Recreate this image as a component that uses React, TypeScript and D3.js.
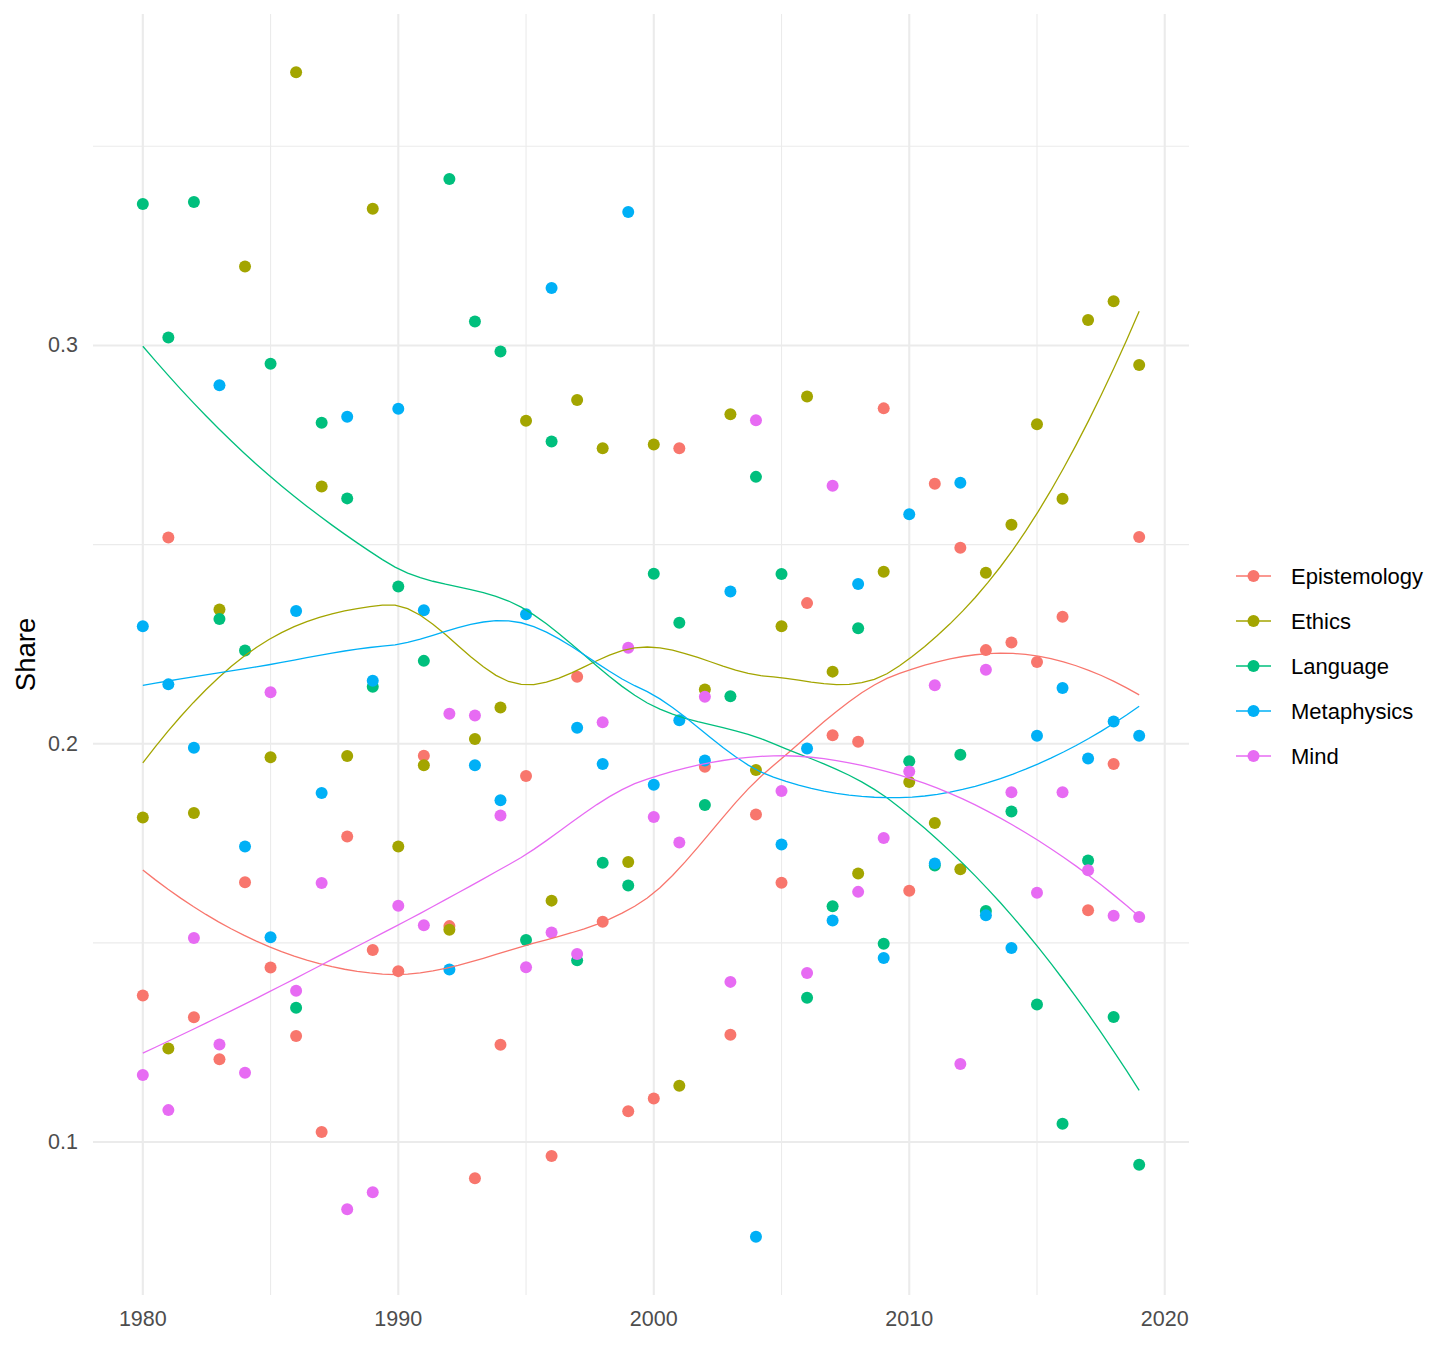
import React, { useMemo } from 'react';
import * as d3 from 'd3';

const years = [
  1980, 1981, 1982, 1983, 1984, 1985, 1986, 1987, 1988, 1989,
  1990, 1991, 1992, 1993, 1994, 1995, 1996, 1997, 1998, 1999,
  2000, 2001, 2002, 2003, 2004, 2005, 2006, 2007, 2008, 2009,
  2010, 2011, 2012, 2013, 2014, 2015, 2016, 2017, 2018, 2019,
];

const topics = ['Epistemology', 'Ethics', 'Language', 'Metaphysics', 'Mind'];

const epistemology = [
  0.1368, 0.2518, 0.1313, 0.1208, 0.1652, 0.1438, 0.1266, 0.1025, 0.1767, 0.1482,
  0.1429, 0.1970, 0.1542, 0.0909, 0.1244, 0.1919, 0.0965, 0.2168, 0.1553, 0.1077,
  0.1109, 0.2742, 0.1942, 0.1269, 0.1822, 0.1651, 0.2353, 0.2021, 0.2005, 0.2842,
  0.1631, 0.2653, 0.2492, 0.2235, 0.2254, 0.2205, 0.2319, 0.1582, 0.1949, 0.2519,
];

const ethics = [
  0.1815, 0.1235, 0.1826, 0.2337, 0.3198, 0.1966, 0.3686, 0.2646, 0.1969, 0.3343,
  0.1742, 0.1946, 0.1533, 0.2012, 0.2091, 0.2811, 0.1606, 0.2863, 0.2742, 0.1703,
  0.2751, 0.1141, 0.2136, 0.2827, 0.1934, 0.2295, 0.2872, 0.2181, 0.1674, 0.2432,
  0.1904, 0.1801, 0.1685, 0.2429, 0.2550, 0.2802, 0.2615, 0.3064, 0.3111, 0.2951,
];

const language = [
  0.3355, 0.3020, 0.3360, 0.2313, 0.2234, 0.2954, 0.1337, 0.2806, 0.2616, 0.2143,
  0.2395, 0.2208, 0.3418, 0.3060, 0.2985, 0.1507, 0.2759, 0.1456, 0.1701, 0.1644,
  0.2427, 0.2304, 0.1846, 0.2119, 0.2670, 0.2426, 0.1362, 0.1592, 0.2290, 0.1498,
  0.1956, 0.1694, 0.1972, 0.1580, 0.1830, 0.1345, 0.1046, 0.1707, 0.1314, 0.0943,
];

const metaphysics = [
  0.2295, 0.2149, 0.1990, 0.2900, 0.1742, 0.1514, 0.2333, 0.1876, 0.2821, 0.2158,
  0.2841, 0.2335, 0.1433, 0.1946, 0.1858, 0.2325, 0.3144, 0.2040, 0.1949, 0.3335,
  0.1897, 0.2059, 0.1958, 0.2382, 0.0762, 0.1747, 0.1988, 0.1556, 0.2401, 0.1462,
  0.2576, 0.1699, 0.2655, 0.1569, 0.1487, 0.2020, 0.2140, 0.1963, 0.2056, 0.2020,
];

const mind = [
  0.1168, 0.1080, 0.1512, 0.1245, 0.1174, 0.2129, 0.1380, 0.1650, 0.0831, 0.0874,
  0.1593, 0.1544, 0.2075, 0.2071, 0.1820, 0.1439, 0.1526, 0.1472, 0.2054, 0.2241,
  0.1816, 0.1752, 0.2118, 0.1402, 0.2812, 0.1881, 0.1424, 0.2648, 0.1628, 0.1763,
  0.1930, 0.2147, 0.1196, 0.2186, 0.1878, 0.1626, 0.1878, 0.1682, 0.1568, 0.1565,
];

const seriesValues = [epistemology, ethics, language, metaphysics, mind];
const colors = ['#F8766D', '#A3A500', '#00BF7D', '#00B0F6', '#E76BF3'];

const yMajor = [0.1, 0.2, 0.3];
const yMinor = [0.15, 0.25, 0.35];
const xMajor = [1980, 1990, 2000, 2010, 2020];
const xMinor = [1985, 1995, 2005, 2015];

const W = 1456;
const H = 1358;
const panel = { left: 93, right: 1189, top: 14, bottom: 1295 };
const FONT = '"Liberation Sans", Arial, Helvetica, sans-serif';

// local quadratic fit at x0 (tricube weights), returns [value, slope]
function localFit(xs: number[], ys: number[], x0: number, q: number): [number, number] {
  const n = xs.length;
  const dist = xs.map(x => Math.abs(x - x0));
  const h = [...dist].sort((a, b) => a - b)[q - 1];
  let s0 = 0, s1 = 0, s2 = 0, s3 = 0, s4 = 0, t0 = 0, t1 = 0, t2 = 0;
  for (let i = 0; i < n; i++) {
    const r = dist[i] / h;
    if (r >= 1) continue;
    const w = Math.pow(1 - r * r * r, 3);
    const u = xs[i] - x0;
    const y = ys[i];
    s0 += w; s1 += w * u; s2 += w * u * u; s3 += w * u * u * u; s4 += w * u * u * u * u;
    t0 += w * y; t1 += w * u * y; t2 += w * u * u * y;
  }
  const det3 = (a: number[][]) =>
    a[0][0] * (a[1][1] * a[2][2] - a[1][2] * a[2][1]) -
    a[0][1] * (a[1][0] * a[2][2] - a[1][2] * a[2][0]) +
    a[0][2] * (a[1][0] * a[2][1] - a[1][1] * a[2][0]);
  const M = [[s0, s1, s2], [s1, s2, s3], [s2, s3, s4]];
  const D = det3(M);
  const A = det3([[t0, s1, s2], [t1, s2, s3], [t2, s3, s4]]);
  const B = det3([[s0, t0, s2], [s1, t1, s3], [s2, t2, s4]]);
  return [A / D, B / D];
}

// loess like R's default: fits at kd-tree vertices, cubic Hermite in between
function loess(xs: number[], ys: number[], at: number[], span = 0.75) {
  const n = xs.length;
  const q = Math.floor(n * span);
  const fc = Math.floor(n * span * 0.2);
  const sorted = [...xs].sort((a, b) => a - b);
  const lo = sorted[0], hi = sorted[n - 1];
  const mu = 0.005 * (hi - lo);
  const cuts: number[] = [lo - mu, hi + mu];
  const split = (l: number, u: number) => {
    if (u - l + 1 <= fc) return;
    const m = Math.floor((l + u) / 2);
    cuts.push((sorted[m] + sorted[m + 1]) / 2);
    split(l, m);
    split(m + 1, u);
  };
  split(0, n - 1);
  const verts = cuts.sort((a, b) => a - b);
  const fits = verts.map(v => localFit(xs, ys, v, q));
  return at.map(x0 => {
    let k = 0;
    while (k < verts.length - 2 && x0 > verts[k + 1]) k++;
    const v0 = verts[k], v1 = verts[k + 1];
    const hh = v1 - v0;
    const t = (x0 - v0) / hh;
    const [y0, m0] = fits[k];
    const [y1, m1] = fits[k + 1];
    const t2 = t * t, t3 = t2 * t;
    return (2 * t3 - 3 * t2 + 1) * y0 + (t3 - 2 * t2 + t) * hh * m0 +
      (-2 * t3 + 3 * t2) * y1 + (t3 - t2) * hh * m1;
  });
}

export default function App() {
  const all = seriesValues.flat();
  const [yLo, yHi] = d3.extent(all) as [number, number];
  const yPad = (yHi - yLo) * 0.05;
  const xPad = (years[years.length - 1] - years[0]) * 0.05;

  const x = d3.scaleLinear()
    .domain([years[0] - xPad, years[years.length - 1] + xPad])
    .range([panel.left, panel.right]);
  const y = d3.scaleLinear()
    .domain([yLo - yPad, yHi + yPad])
    .range([panel.bottom, panel.top]);

  const grid = d3.range(80).map(i => years[0] + (i * (years[years.length - 1] - years[0])) / 79);

  const smooths = useMemo(
    () => seriesValues.map(vals => loess(years, vals, grid)),
    []
  );

  const line = d3.line<[number, number]>()
    .x(d => x(d[0]))
    .y(d => y(d[1]));

  return (
    <svg
      width={W}
      height={H}
      style={{ position: 'absolute', left: 0, top: 0, background: '#fff', fontFamily: FONT }}
    >
      <rect width={W} height={H} fill="#fff" />

      {/* grid */}
      <g>
        {yMinor.filter(v => y(v) >= panel.top).map(v => (
          <line key={`ym${v}`} x1={panel.left} x2={panel.right} y1={y(v)} y2={y(v)} stroke="#ebebeb" strokeWidth={1.1} />
        ))}
        {xMinor.map(v => (
          <line key={`xm${v}`} x1={x(v)} x2={x(v)} y1={panel.top} y2={panel.bottom} stroke="#ebebeb" strokeWidth={1.1} />
        ))}
        {yMajor.map(v => (
          <line key={`yM${v}`} x1={panel.left} x2={panel.right} y1={y(v)} y2={y(v)} stroke="#ebebeb" strokeWidth={2.1} />
        ))}
        {xMajor.map(v => (
          <line key={`xM${v}`} x1={x(v)} x2={x(v)} y1={panel.top} y2={panel.bottom} stroke="#ebebeb" strokeWidth={2.1} />
        ))}
      </g>

      {/* points */}
      <g>
        {seriesValues.map((vals, s) =>
          vals.map((v, i) => (
            <circle key={`p${s}-${i}`} cx={x(years[i])} cy={y(v)} r={6} fill={colors[s]} />
          ))
        )}
      </g>

      {/* smooth lines */}
      <g fill="none">
        {smooths.map((fit, s) => (
          <path
            key={`l${s}`}
            d={line(grid.map((g, i) => [g, fit[i]] as [number, number])) || ''}
            stroke={colors[s]}
            strokeWidth={1.3}
          />
        ))}
      </g>

      {/* axes labels */}
      <g fontSize={21.5} fill="#4d4d4d">
        {yMajor.map(v => (
          <text key={`yt${v}`} x={78} y={y(v)} textAnchor="end" dominantBaseline="central">
            {d3.format('.1f')(v)}
          </text>
        ))}
        {xMajor.map(v => (
          <text key={`xt${v}`} x={x(v)} y={1326} textAnchor="middle">
            {v}
          </text>
        ))}
      </g>
      <text
        transform={`translate(35,${(panel.top + panel.bottom) / 2}) rotate(-90)`}
        textAnchor="middle"
        fontSize={27.5}
        fill="#000"
      >
        Share
      </text>

      {/* legend */}
      <g>
        {topics.map((t, i) => {
          const cy = 576 + i * 45;
          return (
            <g key={t}>
              <line x1={1236} x2={1271} y1={cy} y2={cy} stroke={colors[i]} strokeWidth={1.3} />
              <circle cx={1253.5} cy={cy} r={6} fill={colors[i]} />
              <text x={1291} y={cy} dominantBaseline="central" fontSize={22} fill="#000">
                {t}
              </text>
            </g>
          );
        })}
      </g>
    </svg>
  );
}
